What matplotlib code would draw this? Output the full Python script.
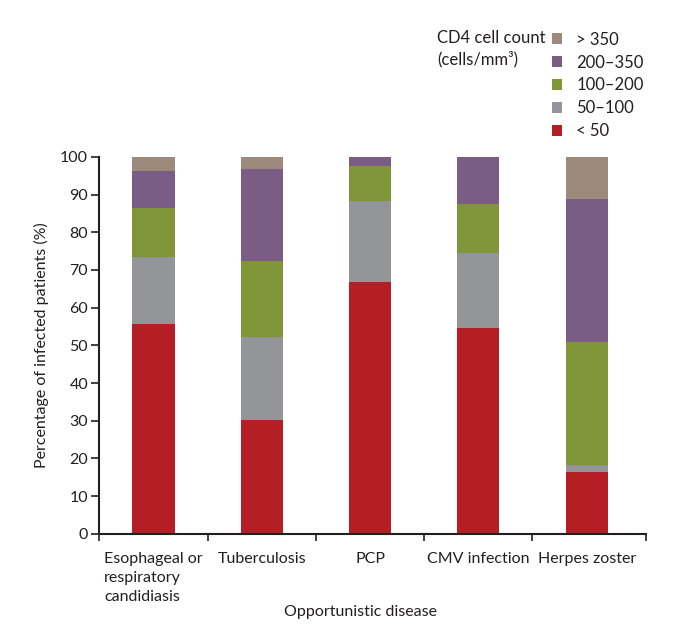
import numpy as np
import matplotlib
matplotlib.use("Agg")
import matplotlib.pyplot as plt

plt.rcParams['font.family'] = ['Lato', 'DejaVu Sans']

diseases = ["Esophageal or\nrespiratory\ncandidiasis", "Tuberculosis", "PCP",
            "CMV infection", "Herpes zoster"]
groups = ["< 50", "50\u2013100", "100\u2013200", "200\u2013350", "> 350"]
colors = ["#b41f25", "#939598", "#7f9537", "#7a5c85", "#9e8a7d"]

lt50 = [55.6, 30.2, 66.7, 54.5, 16.3]
c50_100 = [17.9, 22.1, 21.6, 20.1, 2.0]
c100_200 = [13.0, 20.2, 9.3, 13.0, 32.6]
c200_350 = [9.8, 24.2, 2.4, 12.4, 38.0]
gt350 = [3.7, 3.3, 0.0, 0.0, 11.1]
series = [lt50, c50_100, c100_200, c200_350, gt350]

ink = "#231f20"
fig = plt.figure(figsize=(6.73, 6.35), dpi=100)
ax = fig.add_axes([0.1475, 0.1595, 0.8119, 0.5933])

x = np.arange(len(diseases))
bottom = np.zeros(len(diseases))
bars = []
for vals, col, lab in zip(series, colors, groups):
    b = ax.bar(x, vals, 0.39, bottom=bottom, color=col, label=lab)
    bars.append(b)
    bottom += np.array(vals)

ax.set_xlim(-0.5, 4.545)
ax.set_ylim(0, 100)
ax.set_yticks(np.arange(0, 101, 10))
ax.set_xticks([-0.5, 0.5, 1.5, 2.5, 3.5, 4.545])
ax.set_xticklabels([])
for xi, name in zip(x, diseases):
    ax.text(xi, -4.8, name, ha="center", va="top", multialignment="left",
            fontsize=11.5, color=ink, linespacing=1.45)

for s in ["top", "right"]:
    ax.spines[s].set_visible(False)
for s in ["left", "bottom"]:
    ax.spines[s].set_linewidth(1.5)
    ax.spines[s].set_color(ink)
ax.tick_params(axis="y", length=6, width=1.2, color=ink, pad=2,
               labelsize=11.5, labelcolor=ink)
ax.tick_params(axis="x", length=5, width=1.2, color=ink)

ax.set_ylabel("Percentage of infected patients (%)", fontsize=11.5, color=ink,
              labelpad=8)
fig.text(0.536, 0.036, "Opportunistic disease", ha="center", va="center",
         fontsize=11.5, color=ink)

fig.text(0.649, 0.923, "CD4 cell count\n(cells/mm\u00b3)", ha="left", va="center",
         fontsize=12, color=ink, linespacing=1.4)
handles = bars[::-1]
labels = groups[::-1]
leg = fig.legend(handles, labels, loc="upper left", bbox_to_anchor=(0.82, 0.95),
                 frameon=False, fontsize=12, handlelength=0.62, handleheight=0.62,
                 handletextpad=0.85, labelspacing=0.41, borderaxespad=0,
                 borderpad=0)
for t in leg.get_texts():
    t.set_color(ink)

fig.savefig("out.png", dpi=100)
